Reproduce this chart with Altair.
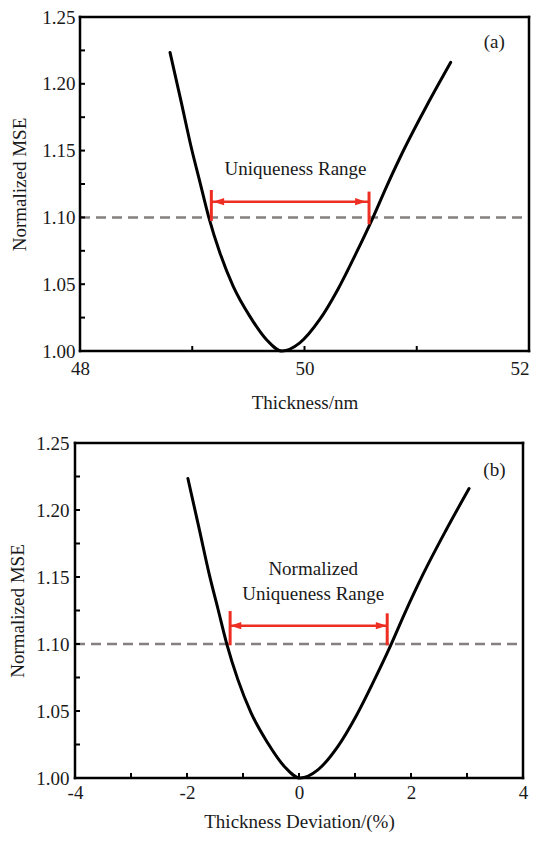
import altair as alt
import pandas as pd

FONT = "Liberation Serif"
TXT = "#1a1a1a"
RED = "#ee2e22"
GREY = "#857f7f"

# ---------------- data ----------------
# panel (a): MSE vs thickness (nm)
a_thickness = [48.802, 48.900, 48.995, 49.069, 49.148, 49.246, 49.364, 49.512,
               49.660, 49.800, 49.958, 50.136, 50.297, 50.462, 50.603, 50.736,
               50.887, 51.091, 51.302]
a_mse = [1.2235, 1.1870, 1.1510, 1.1263, 1.0999, 1.0736, 1.0486, 1.0261,
         1.0086, 1.0000, 1.0061, 1.0236, 1.0461, 1.0736, 1.0986, 1.1240,
         1.1510, 1.1840, 1.2160]

# panel (b): MSE vs thickness deviation (%)
b_dev = [-1.984, -1.788, -1.597, -1.448, -1.289, -1.093, -0.856, -0.558,
         -0.261, 0.020, 0.337, 0.695, 1.018, 1.350, 1.633, 1.900,
         2.203, 2.613, 3.037]
b_mse = [1.2235, 1.1870, 1.1510, 1.1263, 1.0999, 1.0736, 1.0486, 1.0261,
         1.0086, 1.0000, 1.0061, 1.0236, 1.0461, 1.0736, 1.0986, 1.1240,
         1.1510, 1.1840, 1.2160]

threshold = 1.10

y_domain = [1.0, 1.25]
y_labels = [1.00, 1.05, 1.10, 1.15, 1.20, 1.25]
y_ticks = [1.0, 1.025, 1.05, 1.075, 1.10, 1.125, 1.15, 1.175, 1.20, 1.225, 1.25]

a_domain = [48, 52]
a_labels = [48, 50, 52]
a_ticks = [48, 49, 50, 51, 52]
b_domain = [-4, 4]
b_labels = [-4, -2, 0, 2, 4]
b_ticks = [-4, -3, -2, -1, 0, 1, 2, 3, 4]

# red uniqueness-range markers
a_bar_x = [49.17, 50.575]
a_bar_y0 = [1.0973, 1.0948]
a_bar_y1 = [1.1205, 1.1193]
a_arrow_y = 1.1118
a_head_x = [49.235, 50.50]

b_bar_x = [-1.23, 1.575]
b_bar_y0 = [1.0990, 1.0990]
b_bar_y1 = [1.1246, 1.1229]
b_arrow_y = 1.1137
b_head_x = [-1.13, 1.47]

a_text = ["Uniqueness Range"]
a_text_x = [49.92]
a_text_y = [1.1361]
b_text = ["Normalized", "Uniqueness Range"]
b_text_x = [0.254, 0.254]
b_text_y = [1.1557, 1.1373]

a_tag, a_tag_x, a_tag_y = "(a)", 51.69, 1.2316
b_tag, b_tag_x, b_tag_y = "(b)", 3.49, 1.2302

LEFT_HEAD = "M1,-0.64L-1,0L1,0.64Z"
RIGHT_HEAD = "M-1,-0.64L1,0L-1,0.64Z"


def panel(cx, cy, xdom, xlabels, xticks, xtitle, bar_x, bar_y0, bar_y1,
          arrow_y, head_x, tx, ty, ttext, tag, tag_x, tag_y, W, H, x0,
          ylab_pad, ytitle_pad, xlab_pad, xtitle_pad):
    xs = alt.Scale(domain=xdom, nice=False, zero=False, range=[x0, x0 + W])
    ys = alt.Scale(domain=y_domain, nice=False, zero=False)
    x_axis = alt.Axis(
        values=xlabels, title=xtitle, labelExpr="'' + datum.value",
        labelPadding=xlab_pad, titlePadding=xtitle_pad, ticks=False,
        tickSize=0, domain=False, grid=False, labelFlush=False,
        labelAlign={"condition": {"test": f"datum.value >= {xdom[1]} && {xdom[1]} > 10",
                                  "value": "right"},
                    "value": "center"})
    y_axis = alt.Axis(
        values=y_labels, format=".2f", title="Normalized MSE",
        labelPadding=ylab_pad, titlePadding=ytitle_pad, ticks=False,
        tickSize=0, domain=False, grid=False, labelFlush=False, offset=-x0)

    def X():
        return alt.X("x:Q", scale=xs, axis=x_axis)

    def Y():
        return alt.Y("y:Q", scale=ys, axis=y_axis)

    curve_df = pd.DataFrame({"x": cx, "y": cy})
    curve = alt.Chart(curve_df).mark_line(
        color="black", strokeWidth=3, interpolate="monotone", strokeCap="round"
    ).encode(x=X(), y=Y())

    # frame
    vframe = alt.Chart(pd.DataFrame({"x": xdom, "y": [y_domain[0]] * 2,
                                     "y2": [y_domain[1]] * 2})).mark_rule(
        color="black", strokeWidth=2.5, strokeCap="square"
    ).encode(x=X(), y=Y(), y2="y2:Q")
    hframe = alt.Chart(pd.DataFrame({"y": y_domain, "x": [xdom[0]] * 2,
                                     "x2": [xdom[1]] * 2})).mark_rule(
        color="black", strokeWidth=2.5, strokeCap="square"
    ).encode(y=Y(), x=X(), x2="x2:Q")

    dash_df = pd.DataFrame({"x": [xdom[0]], "x2": [xdom[1]], "y": [threshold]})
    dash = alt.Chart(dash_df).mark_rule(
        color=GREY, strokeWidth=2.5, strokeDash=[10, 6]
    ).encode(x=X(), x2="x2:Q", y=Y())

    xt = alt.Chart(pd.DataFrame({"x": xticks})).mark_rule(
        color="black", strokeWidth=2
    ).encode(x=X(), y=alt.value(H), y2=alt.value(H - 5))
    yt = alt.Chart(pd.DataFrame({"y": y_ticks})).mark_rule(
        color="black", strokeWidth=2
    ).encode(y=Y(), x=alt.value(x0), x2=alt.value(x0 + 5))

    bars_df = pd.DataFrame({"x": bar_x, "y": bar_y0, "y2": bar_y1})
    bars = alt.Chart(bars_df).mark_rule(color=RED, strokeWidth=3).encode(
        x=X(), y=Y(), y2="y2:Q")

    shaft_df = pd.DataFrame({"x": [bar_x[0]], "x2": [bar_x[1]], "y": [arrow_y]})
    shaft = alt.Chart(shaft_df).mark_rule(color=RED, strokeWidth=2.5).encode(
        x=X(), x2="x2:Q", y=Y())

    lh = alt.Chart(pd.DataFrame({"x": [head_x[0]], "y": [arrow_y]})).mark_point(
        shape=LEFT_HEAD, size=121, filled=True, color=RED, opacity=1,
        strokeWidth=0).encode(x=X(), y=Y())
    rh = alt.Chart(pd.DataFrame({"x": [head_x[1]], "y": [arrow_y]})).mark_point(
        shape=RIGHT_HEAD, size=121, filled=True, color=RED, opacity=1,
        strokeWidth=0).encode(x=X(), y=Y())

    txt = alt.Chart(pd.DataFrame({"x": tx, "y": ty, "t": ttext})).mark_text(
        font=FONT, fontSize=19, color=TXT, align="center", baseline="middle"
    ).encode(x=X(), y=Y(), text="t:N")

    tagc = alt.Chart(pd.DataFrame({"x": [tag_x], "y": [tag_y], "t": [tag]})).mark_text(
        font=FONT, fontSize=19, color=TXT, align="center", baseline="middle"
    ).encode(x=X(), y=Y(), text="t:N")

    return alt.layer(dash, curve, xt, yt, vframe, hframe, shaft, bars, lh, rh,
                     txt, tagc).properties(width=W + x0, height=H)


top = panel(a_thickness, a_mse, a_domain, a_labels, a_ticks, "Thickness/nm",
            a_bar_x, a_bar_y0, a_bar_y1, a_arrow_y, a_head_x,
            a_text_x, a_text_y, a_text, a_tag, a_tag_x, a_tag_y,
            449, 334, 5, 5, 12.5, 8, 15)
bottom = panel(b_dev, b_mse, b_domain, b_labels, b_ticks, "Thickness Deviation/(%)",
               b_bar_x, b_bar_y0, b_bar_y1, b_arrow_y, b_head_x,
               b_text_x, b_text_y, b_text, b_tag, b_tag_x, b_tag_y,
               448, 335, 0, 6, 8, 5, 10.5)

chart = alt.vconcat(top, bottom, spacing=22).properties(
    padding={"left": 0, "top": 0, "right": 0, "bottom": 0}
).configure_view(
    strokeWidth=0
).configure_axis(
    labelFont=FONT, labelFontSize=19, labelColor=TXT,
    titleFont=FONT, titleFontSize=19, titleFontWeight="normal", titleColor=TXT
)

chart.save("out.html", embed_options={"renderer": "svg", "actions": False})
